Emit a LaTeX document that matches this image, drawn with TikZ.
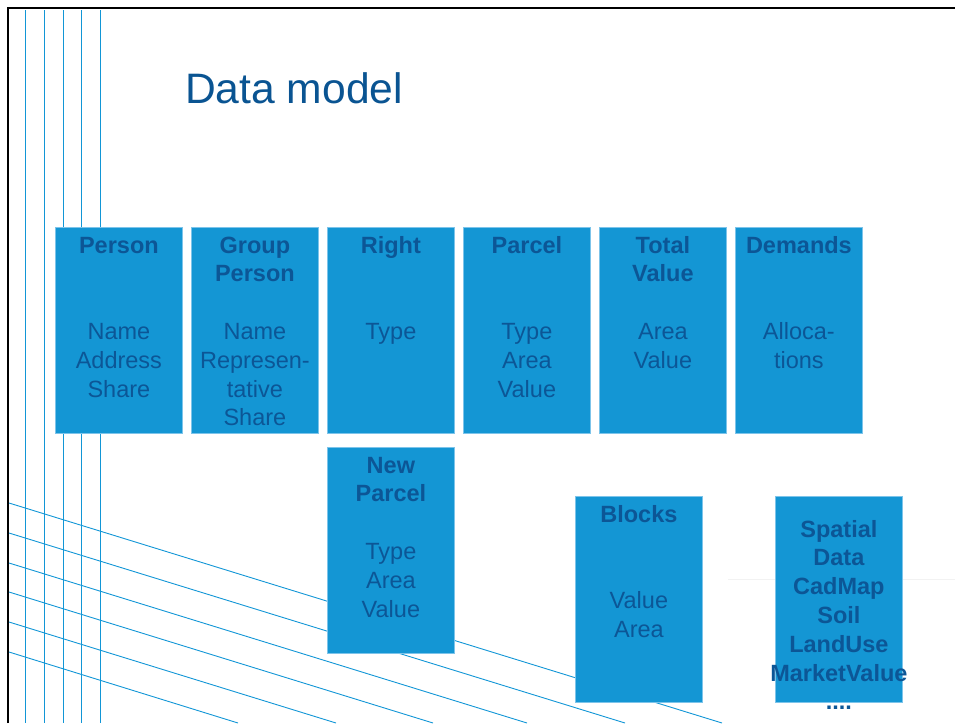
\documentclass[tikz,border=0pt]{standalone}
\usepackage{fontspec}
\setmainfont{Liberation Sans}
\definecolor{boxblue}{RGB}{20,150,212}
\definecolor{boxedge}{RGB}{125,196,234}
\definecolor{lineblue}{RGB}{18,150,214}
\definecolor{textblue}{RGB}{12,86,150}
\definecolor{titleblue}{RGB}{10,84,146}
\newcommand{\entityfont}{\fontsize{23.5}{28.8}\selectfont}
\tikzset{
  entity/.style={rectangle, fill=boxblue, draw=boxedge, line width=0.8pt,
    minimum width=127pt, minimum height=206pt, inner sep=0pt, anchor=north west},
  entitytext/.style={text=textblue, font=\entityfont, align=center,
    text width=150pt, inner sep=0pt, anchor=north, execute at begin node=\strut},
  gridline/.style={draw=lineblue, line width=0.9pt}
}
\begin{document}
\begin{tikzpicture}[x=1pt,y=-1pt]
\useasboundingbox (0,0) rectangle (955,723);
% Rahmen
\draw [line width=2pt] (8,723) -- (8,8) -- (955,8);
% Linien links
\foreach \x in {25,44,63,81,100}
  \draw [gridline] (\x,10) -- (\x,723);
\foreach \y/\x in {503/722,533/625,563/527,592/433,622/336,652/238}
  \draw [gridline] (9,\y) -- (\x,723);
\draw [black!5, line width=1pt] (728,579) -- (955,579);
% Titel
\node [anchor=base west, inner sep=0pt, text=titleblue, font=\fontsize{42.6}{50}\selectfont] (title) at (185,103) {Data model};
% obere Reihe
\node [entity] (person) at (55,227) {};
\node [entitytext] (persontxt) at ([yshift=-5.8pt]person.north) {\textbf{Person}\\[57.6pt]Name\\Address\\Share};
\node [entity] (group) at (191,227) {};
\node [entitytext] (grouptxt) at ([yshift=-5.8pt]group.north) {\textbf{Group}\\\textbf{Person}\\[28.8pt]Name\\Represen-\\tative\\Share};
\node [entity] (right) at (327,227) {};
\node [entitytext] (righttxt) at ([yshift=-5.8pt]right.north) {\textbf{Right}\\[57.6pt]Type};
\node [entity] (parcel) at (463,227) {};
\node [entitytext] (parceltxt) at ([yshift=-5.8pt]parcel.north) {\textbf{Parcel}\\[57.6pt]Type\\Area\\Value};
\node [entity] (total) at (599,227) {};
\node [entitytext] (totaltxt) at ([yshift=-5.8pt]total.north) {\textbf{Total}\\\textbf{Value}\\[28.8pt]Area\\Value};
\node [entity] (demands) at (735,227) {};
\node [entitytext] (demandstxt) at ([yshift=-5.8pt]demands.north) {\textbf{Demands}\\[57.6pt]Alloca-\\tions};
% untere Reihe
\node [entity] (newparcel) at (327,447) {};
\node [entitytext] (newparceltxt) at ([yshift=-5.8pt]newparcel.north) {\textbf{New}\\\textbf{Parcel}\\[28.8pt]Type\\Area\\Value};
\node [entity] (blocks) at (575,496) {};
\node [entitytext] (blockstxt) at ([yshift=-5.8pt]blocks.north) {\textbf{Blocks}\\[57.6pt]Value\\Area};
\node [entity] (spatial) at (775,496) {};
\node [entitytext, font=\entityfont\bfseries] (spatialtxt) at ([yshift=-20.8pt]spatial.north) {Spatial\\Data\\CadMap\\Soil\\LandUse\\MarketValue\\....};
\end{tikzpicture}
\end{document}
